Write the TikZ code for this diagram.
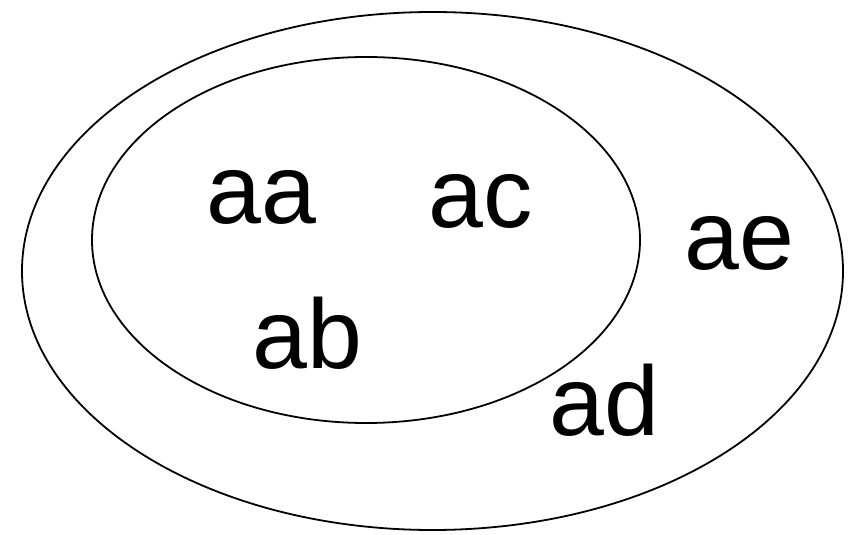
\documentclass[tikz,border=0pt]{standalone}
\usepackage{fontspec}
\setmainfont{Liberation Sans}
\begin{document}
\begin{tikzpicture}[x=1bp,y=-1bp,
  set/.style={draw=black,line width=1.8bp},
  lbl/.style={inner sep=0pt,anchor=base west,font=\fontsize{99}{99}\selectfont}]
\useasboundingbox (0,0) rectangle (859,535);
\draw[set] (432.5,271) ellipse [x radius=410.5, y radius=259];
\draw[set] (366,240) ellipse [x radius=274, y radius=183];
\node[lbl] (aa) at (206,224) {aa};
\node[lbl] (ac) at (428,228) {ac};
\node[lbl] (ab) at (252,368) {ab};
\node[lbl] (ae) at (684,270) {ae};
\node[lbl] (ad) at (549,435) {ad};
\end{tikzpicture}
\end{document}
